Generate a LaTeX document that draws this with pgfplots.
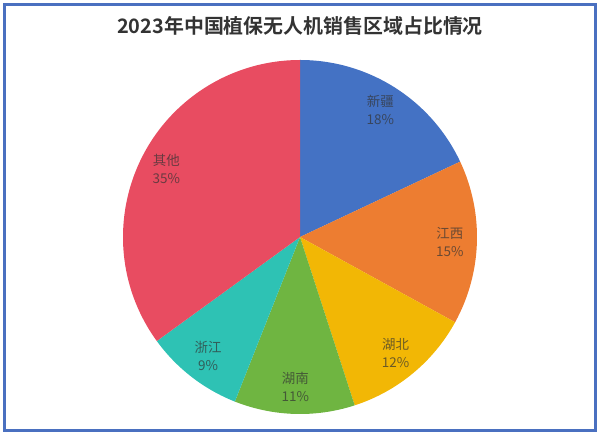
\documentclass[border=0pt]{standalone}
\usepackage{pgfplots}
\pgfplotsset{compat=1.18}
\usepackage{pgfplotstable}
\usetikzlibrary{calc}
\usepackage{fontspec}
\newfontfamily\cjk{Noto Sans CJK SC}[BoldFont={Noto Sans CJK SC Bold}]

\definecolor{cXJ}{HTML}{4472C4}
\definecolor{cJX}{HTML}{ED7D31}
\definecolor{cHB}{HTML}{F2B705}
\definecolor{cHN}{HTML}{6FB541}
\definecolor{cZJ}{HTML}{2EC2B4}
\definecolor{cQT}{HTML}{E84C61}
\definecolor{frame}{HTML}{4A70C0}

% share of sales by region (%), clockwise from 12 o'clock
\pgfplotstableread{
label pct col
新疆 18 cXJ
江西 15 cJX
湖北 12 cHB
湖南 11 cHN
浙江 9  cZJ
其他 35 cQT
}\piedata

\begin{document}
\begin{tikzpicture}
\begin{axis}[
    scale only axis,
    width=18cm, height=13.02cm,
    xmin=0, xmax=600, ymin=0, ymax=434,
    hide axis, clip=false,
]
\path (axis cs:0,0) rectangle (axis cs:600,434);
\draw[frame, line width=0.09cm] (axis cs:4,4) rectangle (axis cs:595,429);
\node[font={\cjk\bfseries\fontsize{17}{20}\selectfont}, text=black!80]
    at (axis cs:300,408) {2023年中国植保无人机销售区域占比情况};
\xdef\cum{90}
\pgfplotsinvokeforeach{0,...,5}{
  \pgfplotstablegetelem{#1}{pct}\of\piedata \let\p\pgfplotsretval
  \pgfplotstablegetelem{#1}{col}\of\piedata \let\col\pgfplotsretval
  \pgfplotstablegetelem{#1}{label}\of\piedata \let\lab\pgfplotsretval
  \pgfmathsetmacro\a{\cum}
  \pgfmathsetmacro\b{\cum-3.6*\p}
  \pgfmathsetmacro\m{(\a+\b)/2}
  \edef\temp{\noexpand\fill[\col] (axis cs:300,197) -- ++(\a:5.31cm)
      arc[start angle=\a, end angle=\b, radius=5.31cm] -- cycle;
    \noexpand\node[align=center, text=black!80, text opacity=0.7,
      font={\noexpand\cjk\noexpand\fontsize{11.5}{15.4}\noexpand\selectfont}]
      at ($(axis cs:300,197)+(\m:4.5cm)$) {\lab\noexpand\\\p\noexpand\%};}
  \temp
  \xdef\cum{\b}
}
\end{axis}
\end{tikzpicture}
\end{document}
